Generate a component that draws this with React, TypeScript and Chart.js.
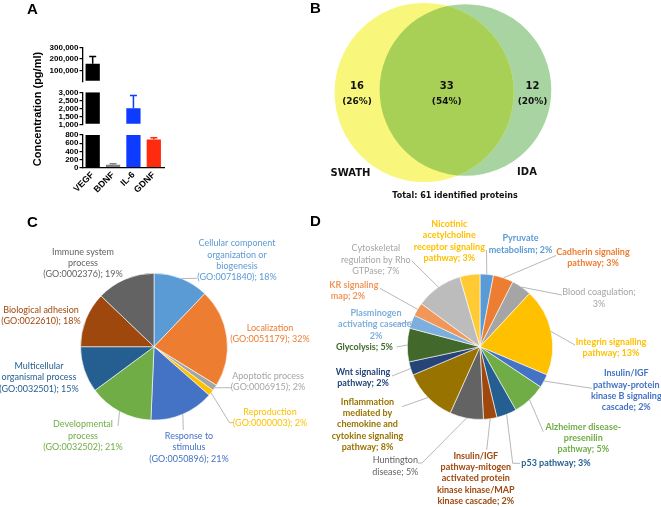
import React, { useEffect, useRef } from 'react';
import { Chart, registerables } from 'chart.js';

Chart.register(...registerables);

// ---------------- Panel A data ----------------
const cytokines = ['VEGF', 'BDNF', 'IL-6', 'GDNF'];
const concentrationMean = [160000, 70, 2000, 690];
const concentrationSem = [62000, 25, 800, 45];
const cytokineColors = ['#000000', '#808080', '#0d3bff', '#ff2b0f'];
const axisSegmentMin = [10000, 1000, 0];
const axisSegmentMax = [300000, 3000, 800];
const axisSegmentTicks = [
  [100000, 200000, 300000],
  [1000, 1500, 2000, 2500, 3000],
  [0, 200, 400, 600, 800],
];

// ---------------- Panel B data ----------------
const vennSetNames = ['SWATH', 'IDA'];
const vennUniqueCounts = [16, 12];
const vennSharedCount = 33;

// ---------------- Panel C data ----------------
const goProcessNames = [
  'Cellular component organization or biogenesis',
  'Localization',
  'Apoptotic process',
  'Reproduction',
  'Response to stimulus',
  'Developmental process',
  'Multicellular organismal process',
  'Biological adhesion',
  'Immune system process',
];
const goProcessIds = ['GO:0071840', 'GO:0051179', 'GO:0006915', 'GO:0000003', 'GO:0050896', 'GO:0032502', 'GO:0032501', 'GO:0022610', 'GO:0002376'];
const goProcessPercent = [18, 32, 2, 2, 21, 21, 15, 18, 19];
const goProcessColors = ['#5b9bd5', '#ed7d31', '#a5a5a5', '#ffc000', '#4472c4', '#70ad47', '#255e91', '#9e480e', '#636363'];

// ---------------- Panel D data ----------------
const pathwayNames = [
  'Pyruvate metabolism',
  'Cadherin signaling pathway',
  'Blood coagulation',
  'Integrin signalling pathway',
  'Insulin/IGF pathway-protein kinase B signaling cascade',
  'Alzheimer disease-presenilin pathway',
  'p53 pathway',
  'Insulin/IGF pathway-mitogen activated protein kinase kinase/MAP kinase cascade',
  'Huntington disease',
  'Inflammation mediated by chemokine and cytokine signaling pathway',
  'Wnt signaling pathway',
  'Glycolysis',
  'Plasminogen activating cascade',
  'CCKR signaling map',
  'Cytoskeletal regulation by Rho GTPase',
  'Nicotinic acetylcholine receptor signaling pathway',
];
const pathwayPercent = [2, 3, 3, 13, 2, 5, 3, 2, 5, 8, 2, 5, 2, 2, 7, 3];
const pathwayColors = ['#5b9bd5', '#ed7d31', '#a5a5a5', '#ffc000', '#4472c4', '#70ad47', '#255e91', '#9e480e', '#636363', '#997300', '#264478', '#43682b', '#7cafdd', '#f1975a', '#bcbcbc', '#ffca33'];
const pathwayTextColors = ['#5b9bd5', '#ed7d31', '#a5a5a5', '#ffc000', '#4472c4', '#70ad47', '#255e91', '#9e480e', '#636363', '#997300', '#264478', '#43682b', '#7cafdd', '#f1975a', '#a5a5a5', '#ffc000'];

// ---------------- layout / style ----------------
const SANS = '"Liberation Sans", Arial, Helvetica, sans-serif';
const LABEL_FONT = 'Lato, "Open Sans", sans-serif';
const VENN_FONT = '"DejaVu Sans", Verdana, sans-serif';
const LEADER_COLOR = '#a6a6a6';
const LABEL_LH = 11.4;

const SEG_LEFT = 40;
const SEG_WIDTH = 128;
const Y_AXIS_W = 42.5;
const SEG_PAD_RIGHT = 4;
const segLayout = [
  { top: 38, height: 50, padTop: 9.3, padBottom: 6.6, showX: false, xHeight: 0 },
  { top: 84, height: 48, padTop: 8.3, padBottom: 7.7, showX: false, xHeight: 0 },
  { top: 126, height: 80, padTop: 9, padBottom: 0, showX: true, xHeight: 38.3 },
];

const VENN_BOX = { left: 300, top: 0, width: 361, height: 205 };
const VENN_MID_X = 144.8;
const VENN_CY = [92.5, 90];
const VENN_PX_PER_SQRT = 12.8;
const VENN_COLORS = ['#f8f77c', '#a8d4a2'];
const VENN_OVERLAP = '#a8cf56';

const PIE_C_BOX = { left: 0, top: 205, width: 330, height: 302 };
const PIE_C_PAD = { left: 80.3, right: 102.3, top: 68, bottom: 86.6 };
const PIE_D_BOX = { left: 330, top: 205, width: 331, height: 302 };
const PIE_D_PAD = { left: 77, right: 108, top: 68.7, bottom: 87.3 };

type Lay = { x: number; y: number; breaks: number[]; align?: CanvasTextAlign; lead?: number[][]; bold?: boolean };

const goLabelLayout: Lay[] = [
  { x: 237, y: 243.3, breaks: [2, 2, 1, 2], lead: [[197, 278.3]] },
  { x: 270, y: 328, breaks: [1, 2] },
  { x: 268, y: 376, breaks: [2, 2], lead: [[232, 387.7]] },
  { x: 270, y: 411.7, breaks: [1, 2], lead: [[229.5, 422.7], [233, 422.7]] },
  { x: 189, y: 436, breaks: [2, 1, 2], lead: [[183.3, 430]] },
  { x: 83, y: 424.3, breaks: [1, 1, 2], lead: [[118, 426]] },
  { x: 39, y: 366, breaks: [1, 2, 2] },
  { x: 41, y: 310, breaks: [2, 2] },
  { x: 83, y: 251.7, breaks: [2, 1, 2] },
];

const pathwayLabelLayout: Lay[] = [
  { x: 520.5, y: 238.3, breaks: [1, 2], lead: [[486.5, 250]], bold: true },
  { x: 593, y: 251.7, breaks: [2, 2], lead: [[556, 255.5]], bold: true },
  { x: 599, y: 292.3, breaks: [2, 1], lead: [[562, 295]] },
  { x: 611, y: 341.7, breaks: [2, 2], lead: [[575, 345]], bold: true },
  { x: 626.3, y: 373.3, breaks: [1, 2, 3, 2], lead: [[592, 388.3]], bold: true },
  { x: 583.3, y: 426.7, breaks: [2, 1, 2], lead: [[543.3, 431.7]], bold: true },
  { x: 556, y: 463.3, breaks: [3], lead: [[512.7, 463.3], [520, 463.3]], bold: true },
  { x: 475.8, y: 455.7, breaks: [1, 2, 2, 2, 3], lead: [[486.7, 450]], bold: true },
  { x: 395.3, y: 460.3, breaks: [1, 2], lead: [[422, 463], [418, 463]] },
  { x: 367.5, y: 401.7, breaks: [1, 2, 2, 2, 2], lead: [[402, 406.7]], bold: true },
  { x: 363, y: 371.7, breaks: [2, 2], lead: [[392, 376]], bold: true },
  { x: 393, y: 346.7, breaks: [2], align: 'right', lead: [[396.5, 347]], bold: true },
  { x: 376, y: 313, breaks: [1, 2, 1], lead: [[392, 325]], bold: true },
  { x: 348, y: 285, breaks: [2, 2], lead: [[380, 288.3]], bold: true },
  { x: 375.8, y: 248.3, breaks: [1, 3, 2], lead: [[411.7, 260.7]] },
  { x: 449.3, y: 224, breaks: [1, 1, 2, 2], bold: true },
];

function wrapLabel(text: string, breaks: number[]): string[] {
  const tokens = text.split(' ').flatMap((w) => w.split(/(?<=-)(?=\w)/));
  const lines: string[] = [];
  let k = 0;
  for (const n of breaks) {
    let line = '';
    for (let j = 0; j < n && k < tokens.length; j++, k++) {
      const t = tokens[k];
      line = line === '' ? t : line.endsWith('-') ? line + t : line + ' ' + t;
    }
    lines.push(line);
  }
  return lines;
}

function overlapArea(r1: number, r2: number, d: number) {
  if (d >= r1 + r2) return 0;
  if (d <= Math.abs(r1 - r2)) return Math.PI * Math.min(r1, r2) ** 2;
  const a1 = Math.acos((d * d + r1 * r1 - r2 * r2) / (2 * d * r1));
  const a2 = Math.acos((d * d + r2 * r2 - r1 * r1) / (2 * d * r2));
  return r1 * r1 * a1 + r2 * r2 * a2 - 0.5 * Math.sqrt((-d + r1 + r2) * (d + r1 - r2) * (d - r1 + r2) * (d + r1 + r2));
}

const barClipPlugin = {
  id: 'barClip',
  beforeDatasetsDraw(chart: any) {
    const { ctx, chartArea } = chart;
    ctx.save();
    ctx.beginPath();
    ctx.rect(chartArea.left, chartArea.top, chartArea.right - chartArea.left, chartArea.bottom - chartArea.top - 0.6);
    ctx.clip();
  },
  afterDatasetsDraw(chart: any) {
    chart.ctx.restore();
  },
};

const errorBarPlugin = {
  id: 'errorBars',
  afterDatasetsDraw(chart: any) {
    const { ctx, chartArea } = chart;
    const meta = chart.getDatasetMeta(0);
    const y = chart.scales.y;
    ctx.save();
    ctx.beginPath();
    ctx.rect(chartArea.left, chartArea.top - 1, chartArea.right - chartArea.left, chartArea.bottom - chartArea.top);
    ctx.clip();
    meta.data.forEach((bar: any, i: number) => {
      const yBase = y.getPixelForValue(concentrationMean[i]);
      const yTop = y.getPixelForValue(concentrationMean[i] + concentrationSem[i]);
      if (yTop > chartArea.bottom) return;
      ctx.strokeStyle = cytokineColors[i];
      ctx.lineWidth = 1.5;
      ctx.beginPath();
      ctx.moveTo(bar.x, yBase);
      ctx.lineTo(bar.x, yTop);
      ctx.moveTo(bar.x - 3.5, yTop);
      ctx.lineTo(bar.x + 3.5, yTop);
      ctx.stroke();
    });
    ctx.restore();
  },
};

const vennPlugin = {
  id: 'vennOverlap',
  afterDatasetsDraw(chart: any) {
    const ctx = chart.ctx;
    const a: any = chart.getDatasetMeta(0).data[0];
    const b: any = chart.getDatasetMeta(1).data[0];
    const ra = a.options.radius;
    const rb = b.options.radius;
    ctx.save();
    ctx.beginPath();
    ctx.arc(a.x, a.y, ra, 0, Math.PI * 2);
    ctx.clip();
    ctx.beginPath();
    ctx.arc(b.x, b.y, rb, 0, Math.PI * 2);
    ctx.fillStyle = VENN_OVERLAP;
    ctx.fill();
    ctx.restore();

    const counts = [vennUniqueCounts[0], vennSharedCount, vennUniqueCounts[1]];
    const total = counts.reduce((s, v) => s + v, 0);
    const xs = [(a.x - ra + b.x - rb) / 2, (b.x - rb + a.x + ra) / 2, (a.x + ra + b.x + rb) / 2];
    ctx.save();
    ctx.fillStyle = '#111';
    ctx.textAlign = 'center';
    ctx.textBaseline = 'middle';
    counts.forEach((c, i) => {
      ctx.font = `bold 10px ${VENN_FONT}`;
      ctx.fillText(String(c), xs[i], 86);
      ctx.font = `bold 9px ${VENN_FONT}`;
      ctx.fillText(`(${Math.round((100 * c) / total)}%)`, xs[i], 101.3);
    });
    ctx.font = `bold 10px ${VENN_FONT}`;
    ctx.fillText(vennSetNames[0], 50.5, 173.5);
    ctx.fillText(vennSetNames[1], 227, 172);
    ctx.font = `bold 8px ${VENN_FONT}`;
    ctx.fillText(`Total: ${total} identified proteins`, 155, 196);
    ctx.restore();
  },
};

type LabelItem = { lines: string[]; x: number; y: number; color: string; bold: boolean; align: CanvasTextAlign; lead?: number[][] };

function makePieLabelPlugin(id: string, origin: { left: number; top: number }, items: LabelItem[]) {
  return {
    id,
    afterDraw(chart: any) {
      const ctx = chart.ctx;
      const arcs = chart.getDatasetMeta(0).data;
      ctx.save();
      items.forEach((it, i) => {
        const arc: any = arcs[i];
        if (it.lead) {
          const mid = (arc.startAngle + arc.endAngle) / 2;
          ctx.beginPath();
          ctx.moveTo(arc.x + Math.cos(mid) * arc.outerRadius, arc.y + Math.sin(mid) * arc.outerRadius);
          it.lead.forEach(([px, py]) => ctx.lineTo(px - origin.left, py - origin.top));
          ctx.strokeStyle = LEADER_COLOR;
          ctx.lineWidth = 0.8;
          ctx.stroke();
        }
        ctx.font = `${it.bold ? 'bold' : 'normal'} 9px ${LABEL_FONT}`;
        ctx.fillStyle = it.color;
        ctx.textAlign = it.align;
        ctx.textBaseline = 'middle';
        it.lines.forEach((ln, j) => ctx.fillText(ln, it.x - origin.left, it.y - origin.top + j * LABEL_LH));
      });
      ctx.restore();
    },
  };
}

export default function App() {
  const seg0 = useRef<HTMLCanvasElement>(null);
  const seg1 = useRef<HTMLCanvasElement>(null);
  const seg2 = useRef<HTMLCanvasElement>(null);
  const vennRef = useRef<HTMLCanvasElement>(null);
  const pieCRef = useRef<HTMLCanvasElement>(null);
  const pieDRef = useRef<HTMLCanvasElement>(null);

  useEffect(() => {
    const charts: Chart[] = [];
    const segRefs = [seg0, seg1, seg2];

    segLayout.forEach((seg, s) => {
      const cv = segRefs[s].current;
      if (!cv) return;
      charts.push(
        new Chart(cv, {
          type: 'bar',
          data: {
            labels: cytokines,
            datasets: [
              {
                data: concentrationMean,
                backgroundColor: cytokineColors,
                borderWidth: 0,
                barPercentage: 0.7,
                categoryPercentage: 1,
                clip: 0 as any,
              },
            ],
          },
          options: {
            responsive: false,
            animation: false,
            events: [],
            layout: { padding: { left: 0, right: SEG_PAD_RIGHT, top: seg.padTop, bottom: seg.padBottom } },
            plugins: { legend: { display: false }, tooltip: { enabled: false } },
            scales: {
              x: {
                display: seg.showX,
                grid: { display: false, drawTicks: false },
                border: { display: true, color: '#000', width: 1.3 },
                ticks: {
                  color: '#000',
                  font: { family: SANS, size: 9, weight: 'bold' },
                  minRotation: 45,
                  maxRotation: 45,
                  autoSkip: false,
                  padding: 2,
                },
                afterFit: (sc: any) => {
                  if (seg.xHeight) sc.height = seg.xHeight;
                },
              } as any,
              y: {
                min: axisSegmentMin[s],
                max: axisSegmentMax[s],
                afterFit: (sc: any) => {
                  sc.width = Y_AXIS_W;
                },
                afterBuildTicks: (sc: any) => {
                  sc.ticks = axisSegmentTicks[s].map((v) => ({ value: v }));
                },
                ticks: {
                  autoSkip: false,
                  color: '#000',
                  padding: 1,
                  font: { family: SANS, size: 8, weight: 'bold' },
                  callback: (v: any) => Number(v).toLocaleString('en-US'),
                },
                grid: { drawOnChartArea: false, drawTicks: true, tickLength: 3, color: '#000', lineWidth: 1.2 },
                border: { display: true, color: '#000', width: 1.3 },
              } as any,
            },
          },
          plugins: [barClipPlugin, errorBarPlugin],
        })
      );
    });

    // Venn (area-proportional)
    if (vennRef.current) {
      const totals = vennUniqueCounts.map((u) => u + vennSharedCount);
      const r1 = VENN_PX_PER_SQRT * Math.sqrt(totals[0]);
      const r2 = VENN_PX_PER_SQRT * Math.sqrt(totals[1]);
      const target = Math.PI * VENN_PX_PER_SQRT * VENN_PX_PER_SQRT * vennSharedCount;
      let lo = Math.abs(r1 - r2);
      let hi = r1 + r2;
      for (let it = 0; it < 60; it++) {
        const mid = (lo + hi) / 2;
        if (overlapArea(r1, r2, mid) > target) lo = mid;
        else hi = mid;
      }
      const d = (lo + hi) / 2;
      charts.push(
        new Chart(vennRef.current, {
          type: 'bubble',
          data: {
            datasets: [
              { data: [{ x: VENN_MID_X - d / 2, y: VENN_CY[0], r: r1 }], backgroundColor: VENN_COLORS[0], borderWidth: 0 },
              { data: [{ x: VENN_MID_X + d / 2, y: VENN_CY[1], r: r2 }], backgroundColor: VENN_COLORS[1], borderWidth: 0 },
            ],
          },
          options: {
            responsive: false,
            animation: false,
            events: [],
            layout: { padding: 0, autoPadding: false },
            plugins: { legend: { display: false }, tooltip: { enabled: false } },
            scales: {
              x: { type: 'linear', display: false, min: 0, max: VENN_BOX.width },
              y: { type: 'linear', display: false, min: 0, max: VENN_BOX.height, reverse: true },
            },
          },
          plugins: [vennPlugin],
        })
      );
    }

    // Pie C
    if (pieCRef.current) {
      const items: LabelItem[] = goProcessNames.map((n, i) => ({
        lines: wrapLabel(`${n} (${goProcessIds[i]}); ${goProcessPercent[i]}%`, goLabelLayout[i].breaks),
        x: goLabelLayout[i].x,
        y: goLabelLayout[i].y,
        color: goProcessColors[i],
        bold: !!goLabelLayout[i].bold,
        align: goLabelLayout[i].align || 'center',
        lead: goLabelLayout[i].lead,
      }));
      charts.push(
        new Chart(pieCRef.current, {
          type: 'pie',
          data: {
            labels: goProcessNames,
            datasets: [{ data: goProcessPercent, backgroundColor: goProcessColors, borderColor: '#ffffff', borderWidth: 0.6 }],
          },
          options: {
            responsive: false,
            animation: false,
            events: [],
            layout: { padding: PIE_C_PAD },
            plugins: { legend: { display: false }, tooltip: { enabled: false } },
          },
          plugins: [makePieLabelPlugin('pieLabelsC', PIE_C_BOX, items)],
        })
      );
    }

    // Pie D
    if (pieDRef.current) {
      const items: LabelItem[] = pathwayNames.map((n, i) => ({
        lines: wrapLabel(`${n}; ${pathwayPercent[i]}%`, pathwayLabelLayout[i].breaks),
        x: pathwayLabelLayout[i].x,
        y: pathwayLabelLayout[i].y,
        color: pathwayTextColors[i],
        bold: !!pathwayLabelLayout[i].bold,
        align: pathwayLabelLayout[i].align || 'center',
        lead: pathwayLabelLayout[i].lead,
      }));
      charts.push(
        new Chart(pieDRef.current, {
          type: 'pie',
          data: {
            labels: pathwayNames,
            datasets: [{ data: pathwayPercent, backgroundColor: pathwayColors, borderColor: '#ffffff', borderWidth: 0.6 }],
          },
          options: {
            responsive: false,
            animation: false,
            events: [],
            layout: { padding: PIE_D_PAD },
            plugins: { legend: { display: false }, tooltip: { enabled: false } },
          },
          plugins: [makePieLabelPlugin('pieLabelsD', PIE_D_BOX, items)],
        })
      );
    }

    return () => charts.forEach((c) => c.destroy());
  }, []);

  const abs = (l: number, t: number): React.CSSProperties => ({ position: 'absolute', left: l, top: t });
  const letter = (l: number, t: number): React.CSSProperties => ({
    position: 'absolute',
    left: l,
    top: t,
    font: `bold 15px ${SANS}`,
    lineHeight: '15px',
    color: '#000',
  });

  return (
    <div style={{ position: 'absolute', left: 0, top: 0, width: 661, height: 507, background: '#fff', overflow: 'hidden' }}>
      <canvas ref={seg0} width={SEG_WIDTH} height={segLayout[0].height} style={abs(SEG_LEFT, segLayout[0].top)} />
      <canvas ref={seg1} width={SEG_WIDTH} height={segLayout[1].height} style={abs(SEG_LEFT, segLayout[1].top)} />
      <canvas ref={seg2} width={SEG_WIDTH} height={segLayout[2].height} style={abs(SEG_LEFT, segLayout[2].top)} />
      <canvas ref={vennRef} width={VENN_BOX.width} height={VENN_BOX.height} style={abs(VENN_BOX.left, VENN_BOX.top)} />
      <canvas ref={pieCRef} width={PIE_C_BOX.width} height={PIE_C_BOX.height} style={abs(PIE_C_BOX.left, PIE_C_BOX.top)} />
      <canvas ref={pieDRef} width={PIE_D_BOX.width} height={PIE_D_BOX.height} style={abs(PIE_D_BOX.left, PIE_D_BOX.top)} />
      <div
        style={{
          position: 'absolute',
          left: 37,
          top: 109,
          transform: 'translate(-50%, -50%) rotate(-90deg)',
          font: `bold 11px ${SANS}`,
          lineHeight: '12px',
          whiteSpace: 'nowrap',
          color: '#000',
        }}
      >
        Concentration (pg/ml)
      </div>
      <div style={letter(27, 1.3)}>A</div>
      <div style={letter(310, 0)}>B</div>
      <div style={letter(27, 213.7)}>C</div>
      <div style={letter(310, 213)}>D</div>
    </div>
  );
}
